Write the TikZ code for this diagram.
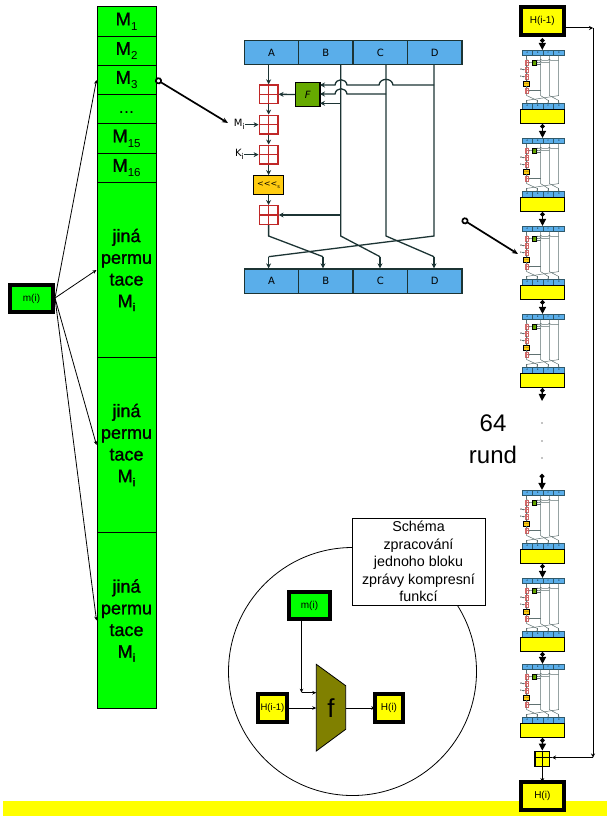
\documentclass[tikz,border=0pt]{standalone}
\usepackage{fontspec}
\setmainfont{Liberation Sans}
\newfontfamily\heavy[FakeBold=1.2]{Liberation Sans}
\newfontfamily\djv{DejaVu Sans}
\usetikzlibrary{arrows.meta,calc}
\definecolor{pgreen}{HTML}{00FF00}
\definecolor{pyellow}{HTML}{FFFF00}
\definecolor{polive}{HTML}{808000}
\definecolor{barblue}{HTML}{5AAEEA}
\definecolor{fgreen}{HTML}{66AA00}
\definecolor{rotgold}{HTML}{FFCC11}
\definecolor{plusred}{HTML}{C02828}
\definecolor{linec}{HTML}{1C3434}
\tikzset{
  cell/.style={draw=black,fill=pgreen,line width=1pt,minimum width=59pt,inner sep=0pt,align=center,anchor=north},
  permcell/.style={cell,minimum height=175pt,font=\heavy\fontsize{18}{21.7}\selectfont},
  thickbox/.style={draw=black,line width=3.6pt,inner sep=0pt,outer sep=0pt,font=\fontsize{10}{12}\selectfont},
  thinarrow/.style={line width=.8pt,-{Stealth[length=4pt,width=3.5pt]}},
  thintick/.style={line width=1pt,-{Stealth[length=4pt,width=4pt]}},
  linkarrow/.style={line width=1.3pt,{Circle[length=4.5pt]}-{Triangle[length=7pt,width=7pt]}},
  pointer/.style={line width=1.7pt,{Circle[open,fill=white,length=7pt]}-{Stealth[length=6pt,width=5pt]}},
}
\newcommand{\cellM}[1]{{\heavy\fontsize{18.5}{20}\selectfont M}\raisebox{-5pt}{\fontsize{11.5}{12}\selectfont #1}}
\newcommand{\subi}{\raisebox{-4pt}{\fontsize{11.5}{12}\selectfont i}}
% prefix, xshift, yshift, xscale, yscale, line width, tip size, colour strength
\newcommand{\RoundFig}[8]{%
\begin{scope}[shift={(#2,#3)},xscale=#4,yscale=#5,transform shape,
  rl/.style={draw=linec!#8!white,line width=#6pt},
  ra/.style={rl,-{Stealth[length=#7pt,width=#7pt]}},
  bar/.style={draw=linec!#8!barblue,fill=barblue,line width=#6pt,minimum width=54.4pt,minimum height=24.4pt,inner sep=0pt,font=\djv\fontsize{10}{10}\selectfont},
  plusb/.style={draw=plusred!#8!white,fill=white,line width=#6pt,minimum size=18.7pt,inner sep=0pt,
    path picture={\draw[plusred!#8!white,line width=#6pt]
      (path picture bounding box.north)--(path picture bounding box.south)
      (path picture bounding box.west)--(path picture bounding box.east);}}]
  \node[bar] (#1-A) at (271.5,52.5) {A};
  \node[bar] (#1-B) at (325.9,52.5) {B};
  \node[bar] (#1-C) at (380.3,52.5) {C};
  \node[bar] (#1-D) at (434.7,52.5) {D};
  \node[bar] (#1-a) at (271.5,281.2) {A};
  \node[bar] (#1-b) at (325.9,281.2) {B};
  \node[bar] (#1-c) at (380.3,281.2) {C};
  \node[bar] (#1-d) at (434.7,281.2) {D};
  \node[plusb] (#1-p1) at (268.6,94.3) {};
  \node[plusb] (#1-p2) at (268.6,124.6) {};
  \node[plusb] (#1-p3) at (268.6,154.6) {};
  \node[plusb] (#1-p4) at (268.6,215) {};
  \node[draw=black,fill=rotgold,line width=#6pt,minimum width=30.4pt,minimum height=18.6pt,inner sep=0pt,
        font=\djv\fontsize{8}{9}\selectfont] (#1-rot) at (268.5,185) {<<<\raisebox{-2pt}{\fontsize{5}{5}\selectfont s}};
  \node[draw=black,fill=fgreen,line width=#6pt,minimum width=24.3pt,minimum height=24.4pt,inner sep=0pt,
        font=\djv\itshape\fontsize{10}{11}\selectfont] (#1-F) at (307.8,94.5) {F};
  \node[font=\djv\fontsize{10}{11}\selectfont,anchor=east,inner sep=0pt] (#1-M) at (245,124.6) {M\raisebox{-2.5pt}{\fontsize{8}{8}\selectfont i}};
  \node[font=\djv\fontsize{10}{11}\selectfont,anchor=east,inner sep=0pt] (#1-K) at (244,154.6) {K\raisebox{-2.5pt}{\fontsize{8}{8}\selectfont i}};
  \coordinate (#1-bt) at (340.7,64.7);
  \coordinate (#1-ct) at (386,64.7);
  \coordinate (#1-dt) at (434,64.7);
  \coordinate (#1-at) at (268.6,64.7);
  \coordinate (#1-ab) at (268.6,236);
  \coordinate (#1-bb) at (340.7,236);
  \coordinate (#1-cb) at (386,236);
  \coordinate (#1-db) at (434,236);
  \coordinate (#1-ta) at (268.6,256.7);
  \coordinate (#1-tb) at (323,256.7);
  \coordinate (#1-tc) at (380,256.7);
  \coordinate (#1-td) at (434,256.7);
  \draw[rl] (#1-bt) -- (#1-bb) -- (#1-tc);
  \draw[rl] (#1-ct) -- (#1-cb) -- (#1-td);
  \draw[rl] (#1-dt) -- (#1-db) -- (#1-ta);
  \draw[ra] (#1-ta) -- (#1-a.north -| #1-ta);
  \draw[rl] (#1-p4.south) -- (#1-ab) -- (#1-tb);
  \draw[ra] (#1-tb) -- (#1-b.north -| #1-tb);
  \draw[ra] (#1-tc) -- (#1-c.north -| #1-tc);
  \draw[ra] (#1-td) -- (#1-d.north -| #1-td);
  \draw[ra] (#1-at) -- (#1-p1.north);
  \draw[ra] (#1-p1.south) -- (#1-p2.north);
  \draw[ra] (#1-p2.south) -- (#1-p3.north);
  \draw[ra] (#1-p3.south) -- (#1-rot.north -| #1-p3);
  \draw[ra] (#1-rot.south -| #1-p3) -- (#1-p4.north);
  \draw[ra] (#1-F.west) -- (#1-p1.east);
  \draw[ra] (#1-M.east) -- (#1-p2.west);
  \draw[ra] (#1-K.east) -- (#1-p3.west);
  \draw[ra] (#1-bb |- #1-p4) -- (#1-p4.east);
  \coordinate (#1-f3) at (320,103.3);
  \coordinate (#1-f2) at (320,94);
  \coordinate (#1-f1) at (320,85);
  \draw[ra] (#1-bt |- #1-f3) -- (#1-f3);
  \draw[ra] (#1-ct |- #1-f2) -- (347,94) .. controls (346,87) and (336,87) .. (335,94) -- (#1-f2);
  \draw[ra] (#1-dt |- #1-f1) -- (393,85) .. controls (392,77.5) and (380,77.5) .. (379,85) -- (347,85)
     .. controls (346,78) and (336,78) .. (335,85) -- (#1-f1);
\end{scope}}
\begin{document}
\begin{tikzpicture}[x=1pt,y=-1pt]
\useasboundingbox (0,0) rectangle (609,816);
\fill[pyellow] (3,801) rectangle (607,816);

% message schedule column
\node[cell,minimum height=30pt] (c1) at (126.5,6) {\cellM{1}};
\node[cell,minimum height=29pt] (c2) at (126.5,36) {\cellM{2}};
\node[cell,minimum height=29pt] (c3) at (126.5,65) {\cellM{3}};
\node[cell,minimum height=29pt] (c4) at (126.5,94) {};
\node[font=\fontsize{18}{20}\selectfont,inner sep=0pt] (c4t) at (126.5,113) {...};
\node[cell,minimum height=30pt] (c5) at (126.5,123) {\cellM{15}};
\node[cell,minimum height=29pt] (c6) at (126.5,153) {\cellM{16}};
\node[permcell] (c7) at (126.5,182) {jin\'a\\permu\\tace\\M\subi};
\node[permcell] (c8) at (126.5,357) {jin\'a\\permu\\tace\\M\subi};
\node[permcell,minimum height=176pt] (c9) at (126.5,532) {jin\'a\\permu\\tace\\M\subi};

\node[thickbox,fill=pgreen,minimum width=43pt,minimum height=27.5pt] (mi) at (31.5,298.5) {m(i)};
\coordinate (mout) at (55,298);
\draw[thinarrow] (mout) -- (c3.west);
\draw[thinarrow] (mout) -- (c7.west);
\draw[thinarrow] (mout) -- (c8.west);
\draw[thinarrow] (mout) -- (c9.west);

% large round
\RoundFig{big}{0}{0}{1}{1}{1.3}{5}{100}
\coordinate (s1) at (155.5,79);
\coordinate (s2) at (228,123);
\coordinate (s3) at (462,219);
\coordinate (s4) at (518,254);
\draw[pointer] (s1) -- (s2);
\draw[pointer] (s3) -- (s4);

% right chain
\node[thickbox,fill=pyellow,minimum width=43pt,minimum height=28.5pt] (Hprev) at (542.3,21) {H(i-1)};
\foreach \n/\t in {a/50,b/138,c/226,d/314,e/490,f/578,g/664}{
  \pgfmathsetmacro{\ty}{\t-9.39}
  \RoundFig{r\n}{474.8}{\ty}{0.1932}{0.233}{0.5}{1.4}{70}
  \pgfmathsetmacro{\yy}{\t+59}
  \node[draw=black,fill=pyellow,line width=1.2pt,minimum width=44pt,minimum height=14pt,inner sep=0pt,anchor=north] (y\n) at (542.5,\yy) {};
}
\draw[linkarrow] ([yshift=-3pt]Hprev.south) -- (Hprev.south |- ra-A.north);
\draw[linkarrow] (ya.south) -- (ya.south |- rb-A.north);
\draw[linkarrow] (yb.south) -- (yb.south |- rc-A.north);
\draw[linkarrow] (yc.south) -- (yc.south |- rd-A.north);
\coordinate (gap1) at (542,401);
\coordinate (gap2) at (542,474);
\draw[linkarrow] (yd.south) -- (gap1);
\draw[linkarrow] (gap2) -- (gap2 |- re-A.north);
\draw[linkarrow] (ye.south) -- (ye.south |- rf-A.north);
\draw[linkarrow] (yf.south) -- (yf.south |- rg-A.north);
\fill (542,423) circle (.6pt) (542,441) circle (.6pt) (542,458) circle (.6pt);
\node[draw=black,fill=pyellow,line width=1.2pt,minimum width=14.5pt,minimum height=15.5pt,inner sep=0pt] (sum) at (542.3,759) {};
\draw[line width=1.5pt] (534,757.5) -- (552,757.5) (542.3,751) -- (542.3,767);
\draw[linkarrow] (yg.south) -- (sum.north);
\node[thickbox,fill=pyellow,minimum width=43pt,minimum height=28pt] (Hout) at (542.3,796) {H(i)};
\draw[line width=1.1pt,-{Stealth[length=4pt,width=4pt]}] (sum.south) -- (Hout.north);
\coordinate (fb1) at (593,28);
\coordinate (fb2) at (593,757.5);
\coordinate (fb3) at (552,757.5);
\draw[thintick] (Hprev.east |- fb1) -- (fb1);
\draw[thintick] (fb1) -- (fb2);
\draw[thintick] (fb2) -- (fb3);

\node[font=\fontsize{24}{32}\selectfont,align=center,inner sep=0pt] (rund) at (493,439) {64\\rund};

% compression function
\draw[line width=.8pt] (352.5,671.5) circle (124);
\node[draw=black,fill=white,line width=1pt,minimum width=133pt,minimum height=87pt,inner sep=0pt,align=center,
  font=\fontsize{14.3}{17.4}\selectfont] (note) at (418.5,561.5) {Sch\'ema\\zpracov\'an\'i\\jednoho bloku\\zpr\'avy kompresn\'i\\funkc\'i};
\node[thickbox,fill=pgreen,minimum width=41.5pt,minimum height=27.5pt] (m2) at (309.5,605.5) {m(i)};
\node[thickbox,fill=pyellow,minimum width=29.5pt,minimum height=27.5pt,font=\fontsize{9.5}{12}\selectfont] (H1) at (272.5,708) {H(i-1)};
\node[thickbox,fill=pyellow,minimum width=27.8pt,minimum height=27.5pt] (H2) at (389,708) {H(i)};
\path[draw=black,fill=polive,line width=.8pt] (316.3,664.3) -- (345.7,685.7) -- (345.7,729.3) -- (316.3,751) -- cycle;
\node[font=\fontsize{26}{28}\selectfont,inner sep=0pt] (fn) at (331,708) {f};
\coordinate (fin1) at (316.3,692.7);
\coordinate (fin2) at (316.3,708);
\coordinate (fout) at (345.7,708);
\coordinate (mtap) at (301.5,692.7);
\draw[thinarrow] (m2.south -| mtap) -- (mtap);
\draw[thinarrow] (mtap) -- (fin1);
\draw[thinarrow] (H1.east) -- (fin2);
\draw[thinarrow] (fout) -- (H2.west);
\end{tikzpicture}
\end{document}
